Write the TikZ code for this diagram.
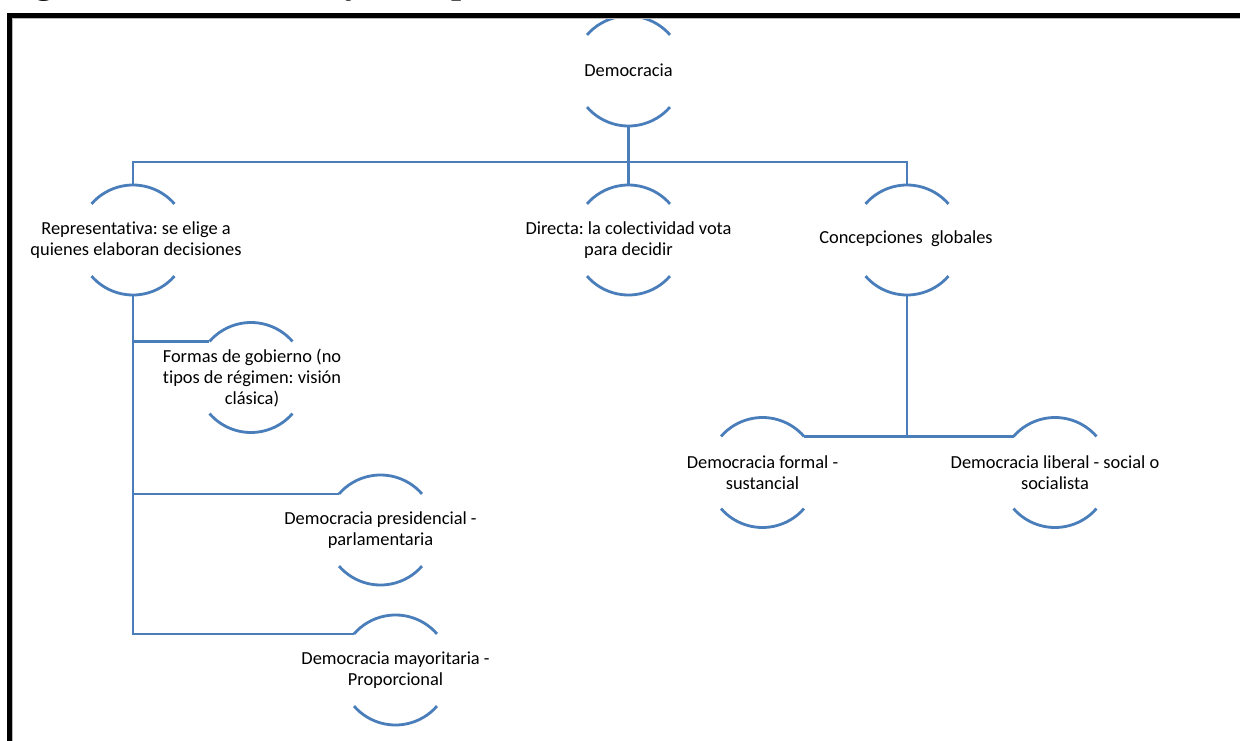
\documentclass[tikz,border=0pt]{standalone}
\usepackage{fontspec}
\setmainfont{Carlito}[Ligatures=NoCommon]
\newfontfamily\titlefont{Liberation Serif}
\definecolor{sa}{RGB}{74,126,187}
\frenchspacing
\begin{document}
\begin{tikzpicture}[x=1pt,y=1pt,
  conn/.style={draw=sa,line width=2.8pt},
  lbl/.style={align=center,font=\fontsize{18.4}{21}\selectfont,text=black,inner sep=0pt}]
\clip (0,0) rectangle (1240,-741);
\fill[white] (0,0) rectangle (1240,-741);
\node[anchor=base west,font=\titlefont\bfseries\fontsize{36}{40}\selectfont,inner sep=0pt] (title) at (3,6) {Figura 3. Democracia y sus tipos};
% arc centres
\coordinate (cDem) at (628.5,-71);
\coordinate (cRep) at (133,-240);
\coordinate (cDir) at (628.5,-240);
\coordinate (cCon) at (907,-240);
\coordinate (cFms) at (251,-377.5);
\coordinate (cPre) at (380.5,-530);
\coordinate (cMay) at (395.5,-670);
\coordinate (cFml) at (762.5,-472.5);
\coordinate (cLib) at (1055,-472.5);
\foreach \c in {cDem,cRep,cDir,cCon,cFms,cPre,cMay,cFml,cLib}{
  \draw[conn] ([shift={(41:55)}]\c) arc[start angle=41,end angle=139,radius=55];
  \draw[conn] ([shift={(221:55)}]\c) arc[start angle=221,end angle=319,radius=55];
  \coordinate (\c T) at ([yshift=55]\c);
  \coordinate (\c B) at ([yshift=-55]\c);
  \coordinate (\c L) at ([shift={(139:55)}]\c);
  \coordinate (\c R) at ([shift={(41:55)}]\c);
}
% connectors
\draw[conn] (cDemB) -- (cDirT);
\draw[conn] (cRepT) -- ++(0,23) -| (cConT);
\draw[conn] (cRepB) |- (cFmsL);
\draw[conn] (cRepB) |- (cPreL);
\draw[conn] (cRepB) |- (cMayL);
\draw[conn] (cConB) -- (cConB |- cFmlR);
\draw[conn] (cFmlR) -- (cLibL);
% labels
\node[lbl] (tDem) at (628.5,-70) {Democracia};
\node[lbl] (tRep) at (136,-240) {Representativa: se elige a\\quienes elaboran decisiones};
\node[lbl] (tDir) at (628.5,-240.5) {Directa: la colectividad vota\\para decidir};
\node[lbl] (tCon) at (906,-239) {Concepciones\ \ globales};
\node[lbl] (tFms) at (252,-378) {Formas de gobierno (no\\tipos de régimen: visión\\clásica)};
\node[lbl] (tPre) at (380.5,-530) {Democracia presidencial -\\parlamentaria};
\node[lbl] (tMay) at (395.5,-670) {Democracia mayoritaria -\\Proporcional};
\node[lbl] (tFml) at (762.5,-473) {Democracia formal -\\sustancial};
\node[lbl] (tLib) at (1055,-473) {Democracia liberal - social o\\socialista};
% frame
\draw[gray!55,line width=0.8pt] (12.5,-800) -- (12.5,-18.6) -- (1300,-18.6);
\draw[line width=5pt] (9.5,-15.5) rectangle (1300,-800);
\end{tikzpicture}
\end{document}
